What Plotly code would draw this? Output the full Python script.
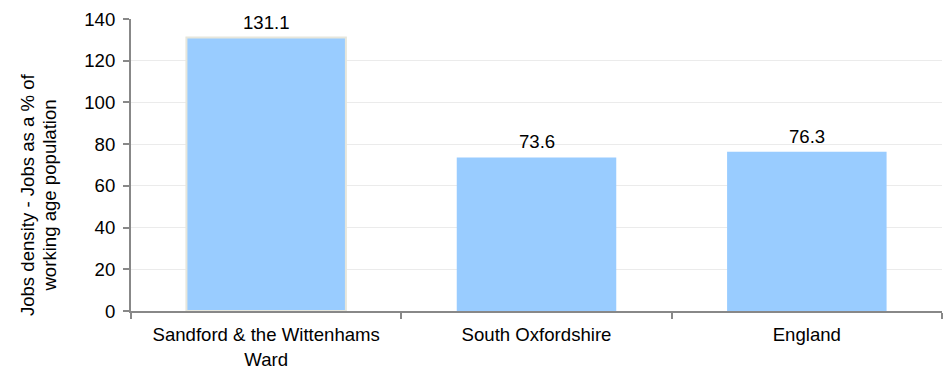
import plotly.graph_objects as go

categories = ["Sandford & the Wittenhams<br>Ward", "South Oxfordshire", "England"]
values = [131.1, 73.6, 76.3]
labels = ["131.1", "73.6", "76.3"]
y_ticks = [0, 20, 40, 60, 80, 100, 120, 140]
y_title_lines = ["Jobs density - Jobs as a % of", "working age population"]

FONT = "Liberation Sans, Arial"
FS = 18.6

fig = go.Figure(go.Bar(
    x=categories, y=values,
    marker=dict(color="#99CCFF",
                line=dict(color=["#E6E6DC", "rgba(0,0,0,0)", "rgba(0,0,0,0)"], width=2)),
))

annotations = []
for c, v, t in zip(categories, values, labels):
    annotations.append(dict(
        x=c, y=v, xref="x", yref="y", text=t, showarrow=False,
        xanchor="center", yanchor="bottom", yshift=3,
        font=dict(size=FS, color="#000000"),
    ))
for xp, line in zip([-0.1282, -0.1005], y_title_lines):
    annotations.append(dict(
        text=line, textangle=-90, xref="paper", yref="paper",
        x=xp, y=0.397, xanchor="center", yanchor="middle",
        showarrow=False, font=dict(size=FS, color="#000000"),
    ))

fig.update_layout(
    width=944, height=369,
    margin=dict(l=131, r=2, t=19, b=58, autoexpand=False),
    paper_bgcolor="white", plot_bgcolor="white",
    font=dict(family=FONT, size=FS, color="#000000"),
    bargap=0.41, showlegend=False,
    annotations=annotations,
)
fig.update_xaxes(
    automargin=False,
    showline=True, linecolor="#888888", linewidth=2,
    ticks="outside", tickson="boundaries", ticklen=6, tickcolor="#888888", tickwidth=2,
    tickfont=dict(size=FS), showgrid=False, ticklabelstandoff=6,
)
fig.update_yaxes(
    automargin=False,
    range=[0, 140], tickvals=y_ticks, showline=True, linecolor="#888888", linewidth=2,
    ticks="outside", ticklen=6, tickcolor="#888888", tickwidth=2,
    gridcolor="#EBEBEB", gridwidth=1, zeroline=False,
    tickfont=dict(size=FS), ticklabelstandoff=4,
)

fig.write_html("out.html", config={"displayModeBar": False},
               post_script="document.body.style.margin='0px';")
